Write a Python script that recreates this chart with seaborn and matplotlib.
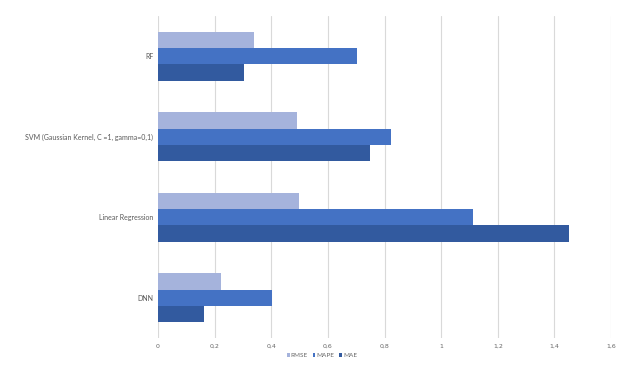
import matplotlib
matplotlib.use("Agg")
import matplotlib.pyplot as plt
import seaborn as sns
import pandas as pd

# values
models = ["RF", "SVM (Gaussian Kernel, C =1, gamma=0,1)", "Linear Regression", "DNN"]
metrics = ["RMSE", "MAPE", "MAE"]
rmse = [0.339, 0.491, 0.498, 0.221]
mape = [0.703, 0.822, 1.112, 0.401]
mae = [0.304, 0.748, 1.452, 0.164]
xticks = [0, 0.2, 0.4, 0.6, 0.8, 1.0, 1.2, 1.4, 1.6]
xtick_labels = ["0", "0,2", "0,4", "0,6", "0,8", "1", "1,2", "1,4", "1,6"]

df = pd.DataFrame({
    "model": models * 3,
    "metric": [m for m in metrics for _ in models],
    "value": rmse + mape + mae,
})

sns.set_style("white")
plt.rcParams["font.family"] = ["Lato", "DejaVu Sans"]
colors = ["#a5b3dc", "#4472c4", "#325a9f"]

fig = plt.figure(figsize=(6.39, 3.71), dpi=100)
ax = fig.add_axes([0.2473, 0.089, 0.709, 0.868])

sns.barplot(data=df, x="value", y="model", hue="metric", order=models,
            hue_order=metrics, palette=colors, width=0.61, saturation=1,
            edgecolor="none", ax=ax)

ax.set_xlim(0, 1.6)
ax.set_xticks(xticks)
ax.set_xticklabels(xtick_labels, fontsize=4.5, color="#666666", family="DejaVu Sans")
ax.tick_params(axis="y", labelsize=5, labelcolor="#595959", length=0, pad=3.5)
ax.tick_params(axis="x", length=0, pad=4)
ax.xaxis.grid(True, color="#d9d9d9", linewidth=0.8)
ax.set_axisbelow(True)
ax.set_xlabel("")
ax.set_ylabel("")
for s in ax.spines.values():
    s.set_visible(False)

leg = ax.legend(loc="upper center", bbox_to_anchor=(0.362, -0.03), ncol=3,
                frameon=False, fontsize=4.6, handlelength=0.45, handleheight=0.45,
                handletextpad=0.2, columnspacing=0.7)
for t in leg.get_texts():
    t.set_color("#666666")

fig.savefig("out.png", dpi=100)
